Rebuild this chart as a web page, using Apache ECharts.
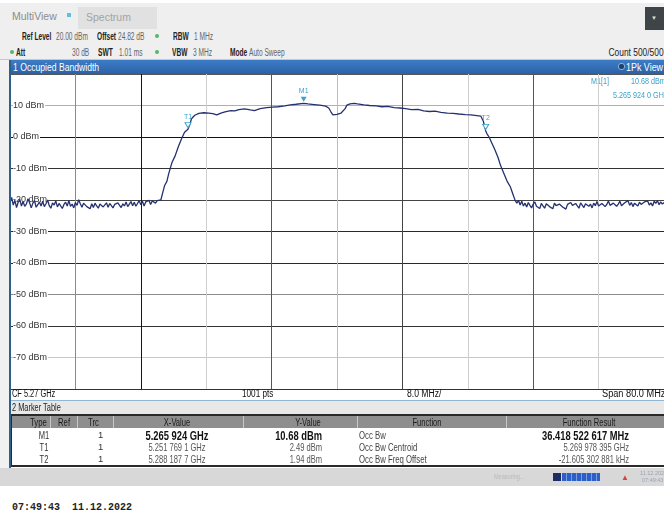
<!DOCTYPE html>
<html><head><meta charset="utf-8">
<script src="https://cdn.jsdelivr.net/npm/echarts/dist/echarts.min.js"></script>
<style>
html,body{margin:0;padding:0;}
body{width:664px;height:519px;overflow:hidden;background:#fff;position:relative;font-family:'Liberation Sans',Arial,sans-serif;color:#333;}
.a{position:absolute;white-space:nowrap;line-height:1;}
.b{font-weight:bold;}
.r{text-align:right;}
.c{text-align:center;}
.sl{transform:scaleX(.66);transform-origin:left top;}
.sr{transform:scaleX(.72);transform-origin:right top;}
.sc{transform:scaleX(.72);transform-origin:center top;}
.tl{transform:scaleX(.74);transform-origin:left top;}
</style>
</head><body>
<!-- top bar -->
<div class="a" style="left:0;top:3px;width:664px;height:56px;background:#efefef;"></div>
<div class="a" style="left:12px;top:11px;font-size:10.5px;color:#8c8c8c;">MultiView</div>
<div class="a" style="left:67px;top:13px;width:4px;height:4px;background:#5cc2dc;"></div>
<div class="a" style="left:78px;top:7px;width:79px;height:22px;background:#e1e1e1;"></div>
<div class="a" style="left:86px;top:12px;font-size:10.5px;color:#a3a3a3;">Spectrum</div>
<div class="a" style="left:645px;top:7px;width:19px;height:23px;background:#3e4447;"></div>
<div class="a" style="left:651px;top:15px;font-size:6px;color:#ddd;">▼</div>

<div class="a b sl" style="left:22px;top:32px;font-size:10px;color:#222;">Ref Level</div>
<div class="a sl" style="left:56px;top:32px;font-size:10px;color:#666;">20.00 dBm</div>
<div class="a b sl" style="left:97px;top:32px;font-size:10px;color:#222;">Offset</div>
<div class="a sl" style="left:118px;top:32px;font-size:10px;color:#666;">24.82 dB</div>
<div class="a" style="left:155px;top:34px;width:4px;height:4px;border-radius:2px;background:#55b56a;"></div>
<div class="a b sl" style="left:173px;top:32px;font-size:10px;color:#222;">RBW</div>
<div class="a sl" style="left:194px;top:32px;font-size:10px;color:#666;">1 MHz</div>

<div class="a" style="left:10px;top:50px;width:4px;height:4px;border-radius:2px;background:#55b56a;"></div>
<div class="a b sl" style="left:16px;top:48px;font-size:10px;color:#222;">Att</div>
<div class="a sl" style="left:72px;top:48px;font-size:10px;color:#666;">30 dB</div>
<div class="a b sl" style="left:98px;top:48px;font-size:10px;color:#222;">SWT</div>
<div class="a sl" style="left:119px;top:48px;font-size:10px;color:#666;">1.01 ms</div>
<div class="a" style="left:155px;top:50px;width:4px;height:4px;border-radius:2px;background:#55b56a;"></div>
<div class="a b sl" style="left:172px;top:48px;font-size:10px;color:#222;">VBW</div>
<div class="a sl" style="left:193px;top:48px;font-size:10px;color:#666;">3 MHz</div>
<div class="a b sl" style="left:230px;top:48px;font-size:10px;color:#222;">Mode</div>
<div class="a sl" style="left:249px;top:48px;font-size:10px;color:#666;">Auto Sweep</div>
<div class="a sr" style="right:0;top:48px;font-size:10px;color:#222;transform:scaleX(.84);">Count 500/500</div>
<div class="a" style="left:0;top:59px;width:664px;height:1px;background:#a9d0e6;"></div>

<!-- left strip and window border -->
<div class="a" style="left:0;top:60px;width:9px;height:410px;background:#f1f1f1;"></div>
<div class="a" style="left:9px;top:60px;width:2px;height:408px;background:#2f5f8c;z-index:5;"></div>

<!-- header bar -->
<div class="a" style="left:9px;top:60px;width:655px;height:14px;background:linear-gradient(#3d7cc6,#2a62a8);"></div>
<div class="a tl" style="left:13px;top:62px;font-size:10.5px;color:#fff;transform:scaleX(.82);">1 Occupied Bandwidth</div>
<div class="a" style="left:618px;top:63px;width:5px;height:5px;border-radius:3px;background:#1d3f6e;border:1px solid #8fb2dc;"></div>
<div class="a tl" style="left:626px;top:62px;font-size:10.5px;color:#fff;transform:scaleX(.85);">1Pk View</div>

<!-- plot -->
<div id="plot" class="a" style="left:0;top:74px;width:664px;height:316px;"></div>

<!-- CF row -->
<div class="a" style="left:11px;top:390px;width:653px;height:10px;background:#fff;"></div>
<div class="a tl" style="left:12px;top:389px;font-size:10px;color:#111;">CF 5.27 GHz</div>
<div class="a tl" style="left:242px;top:389px;font-size:10px;color:#111;transform:scaleX(.82);">1001 pts</div>
<div class="a tl" style="left:407px;top:389px;font-size:10px;color:#111;transform:scaleX(.86);">8.0 MHz/</div>
<div class="a tl" style="left:602px;top:389px;font-size:10px;color:#111;transform:scaleX(.92);">Span 80.0 MHz</div>
<div class="a" style="left:11px;top:400px;width:653px;height:1px;background:#8fb6d4;"></div>
<div class="a" style="left:11px;top:401px;width:653px;height:13px;background:#e8e8e8;"></div>
<div class="a tl" style="left:12px;top:403px;font-size:10px;color:#222;">2 Marker Table</div>

<!-- table -->
<div class="a" style="left:11px;top:414px;width:655px;height:53px;background:#fff;border-top:2px solid #2a2a2a;border-bottom:2px solid #2a2a2a;border-left:1px solid #2a2a2a;box-sizing:border-box;"></div>
<div class="a" style="left:12px;top:416px;width:652px;height:12px;background:#8e8e8e;"></div>
<div class="a" style="left:50px;top:416px;width:1px;height:12px;background:#c8c8c8;"></div>
<div class="a" style="left:77px;top:416px;width:1px;height:12px;background:#c8c8c8;"></div>
<div class="a" style="left:113px;top:416px;width:1px;height:12px;background:#c8c8c8;"></div>
<div class="a" style="left:243px;top:416px;width:1px;height:12px;background:#c8c8c8;"></div>
<div class="a" style="left:357px;top:416px;width:1px;height:12px;background:#c8c8c8;"></div>
<div class="a" style="left:506px;top:416px;width:1px;height:12px;background:#c8c8c8;"></div>
<div class="a tl" style="left:30px;top:417px;font-size:10.5px;color:#1a1a1a;">Type</div>
<div class="a tl" style="left:58px;top:417px;font-size:10.5px;color:#1a1a1a;">Ref</div>
<div class="a tl" style="left:88px;top:417px;font-size:10.5px;color:#1a1a1a;">Trc</div>
<div class="a c sc" style="left:137px;width:80px;top:417px;font-size:10.5px;color:#1a1a1a;">X-Value</div>
<div class="a c sc" style="left:268px;width:80px;top:417px;font-size:10.5px;color:#1a1a1a;">Y-Value</div>
<div class="a c sc" style="left:387px;width:80px;top:417px;font-size:10.5px;color:#1a1a1a;">Function</div>
<div class="a c sc" style="left:549px;width:80px;top:417px;font-size:10.5px;color:#1a1a1a;">Function Result</div>

<div id="rows"></div>

<!-- status bar -->
<div class="a" style="left:0;top:468px;width:664px;height:18px;background:#d8d8d8;"></div>
<div class="a tl" style="left:494px;top:473px;font-size:7.5px;color:#b9b9b9;">Measuring...</div>
<div class="a" style="left:553px;top:473px;width:8px;height:8px;background:#1f2c63;"></div>
<div class="a" style="left:562px;top:473px;width:38px;height:8px;background:repeating-linear-gradient(90deg,#2d5fc9 0 4px,#7c9ce0 4px 5px);"></div>
<div class="a" style="left:621px;top:474px;font-size:8px;color:#d5433b;">▲</div>
<div class="a" style="left:640px;top:471px;font-size:5.5px;color:#9aa2b8;">11.12.2022</div>
<div class="a" style="left:642px;top:478px;font-size:5.5px;color:#9aa2b8;">07:49:43</div>

<div class="a b" style="left:12px;top:503px;font-family:'Liberation Mono','DejaVu Sans Mono',monospace;font-size:10px;color:#222;">07:49:43&nbsp;&nbsp;11.12.2022</div>

<script>
// ---------- data ----------
const centerFreqMHz = 5270;
const spanMHz = 80;
const divMHz = 8;
const refLevel = 20;
const bottomLevel = -80;
const levelDiv = 10;

// trace: [frequency MHz, level dBm]
const noiseLeft = [
  [5230.0,-20.4],[5230.2,-19.2],[5230.4,-21.6],[5230.6,-20.1],[5230.8,-22.4],[5231.0,-20.7],[5231.2,-19.8],[5231.4,-21.9],[5231.6,-20.5],[5231.8,-22.0],
  [5232.0,-21.3],[5232.2,-19.6],[5232.4,-20.9],[5232.6,-22.5],[5232.8,-21.0],[5233.0,-20.2],[5233.2,-22.3],[5233.4,-21.5],[5233.6,-20.6],[5233.8,-21.9],
  [5234.0,-20.4],[5234.2,-22.1],[5234.4,-21.2],[5234.6,-20.0],[5234.8,-21.8],[5235.0,-22.6],[5235.2,-20.9],[5235.4,-21.6],[5235.6,-20.3],[5235.8,-22.2],
  [5236.0,-21.1],[5236.2,-20.5],[5236.4,-22.7],[5236.6,-21.4],[5236.8,-20.7],[5237.0,-21.9],[5237.2,-20.2],[5237.4,-22.0],[5237.6,-21.3],[5237.8,-22.5],
  [5238.0,-20.8],[5238.2,-21.7],[5238.4,-19.9],[5238.6,-21.2],[5238.8,-22.3],[5239.0,-21.0],[5239.2,-20.4],[5239.4,-22.1],[5239.6,-21.5],[5239.8,-22.8],
  [5240.0,-21.2],[5240.2,-22.4],[5240.4,-21.0],[5240.6,-21.9],[5240.8,-22.6],[5241.0,-21.3],[5241.2,-20.8],[5241.4,-22.2],[5241.6,-21.6],[5241.8,-20.9],
  [5242.0,-22.3],[5242.2,-21.1],[5242.4,-21.8],[5242.6,-22.5],[5242.8,-21.4],[5243.0,-22.0],[5243.2,-20.9],[5243.4,-21.7],[5243.6,-22.4],[5243.8,-21.2],
  [5244.0,-21.9],[5244.2,-20.6],[5244.4,-22.1],[5244.6,-21.3],[5244.8,-20.5],[5245.0,-21.8],[5245.2,-20.7],[5245.4,-22.0],[5245.6,-21.1],[5245.8,-20.2],
  [5246.0,-21.5],[5246.2,-20.4],[5246.4,-21.9],[5246.6,-20.6],[5246.8,-21.2],[5247.0,-20.1],[5247.2,-21.4],[5247.4,-20.3],[5247.6,-19.8],[5247.8,-21.0],
  [5248.0,-20.2],[5248.2,-20.6]
];
const edgeLeft = [
  [5248.45,-20.0],[5248.7,-17.5],[5248.9,-15.5],[5249.2,-14.0],[5249.4,-11.8],[5249.8,-8.2],
  [5250.2,-6.0],[5250.6,-3.0],[5251.0,-0.5],[5251.35,1.5],[5251.77,2.49],[5252.0,4.0],
  [5252.2,5.8],[5252.6,6.9]
];
const plateau = [
  [5253.1,7.5],[5253.7,7.7],[5254.3,7.6],[5254.8,7.4],[5255.3,7.0],[5255.8,7.6],[5256.3,8.0],
  [5257.0,8.4],[5257.5,8.3],[5258.0,8.7],[5258.7,8.9],[5259.4,8.6],[5259.9,8.4],[5260.6,9.0],
  [5261.4,9.3],[5262.1,9.5],[5262.8,9.6],[5263.6,9.9],[5264.3,10.2],[5265.0,10.4],
  [5265.924,10.68],[5266.45,10.5],[5267.2,10.3],[5267.9,10.1],[5268.6,9.8],[5268.99,9.2],
  [5269.25,8.0],[5269.5,7.0],[5269.7,6.4],[5270.0,7.2],[5270.2,6.8],[5270.5,7.6],[5270.7,7.9],
  [5271.0,9.0],[5271.2,10.1],[5271.6,10.5],[5272.1,10.7],[5272.5,10.5],[5273.3,10.2],
  [5274.0,10.0],[5274.8,9.9],[5275.5,9.6],[5276.2,9.7],[5277.0,9.3],[5277.7,9.2],[5278.4,9.0],
  [5279.1,8.7],[5279.9,8.8],[5280.6,8.3],[5281.3,8.1],[5282.0,8.2],[5282.7,7.8],[5283.5,7.6],
  [5284.2,7.5],[5284.9,7.3],[5285.7,7.1],[5286.4,7.0],[5287.1,6.8],[5287.6,6.6]
];
const edgeRight = [
  [5287.9,5.0],[5288.19,1.94],[5288.35,1.0],[5288.6,0.0],[5288.95,-2.0],[5289.3,-4.0],
  [5289.7,-6.5],[5290.0,-9.0],[5290.4,-11.5],[5290.8,-14.0],[5291.2,-15.8],[5291.5,-18.0],
  [5291.8,-20.2],[5292.0,-21.0]
];
const noiseRight = [
  [5292.2,-20.1],[5292.4,-21.6],[5292.6,-20.4],[5292.8,-21.9],[5293.0,-21.0],[5293.2,-22.2],[5293.4,-20.8],[5293.6,-21.7],[5293.8,-22.5],[5294.0,-21.3],
  [5294.2,-20.6],[5294.4,-22.0],[5294.6,-21.4],[5294.8,-22.7],[5295.0,-21.1],[5295.2,-21.9],[5295.4,-22.6],[5295.6,-21.2],[5295.8,-20.7],[5296.0,-22.1],
  [5296.2,-21.5],[5296.4,-22.8],[5296.6,-21.0],[5296.8,-21.8],[5297.0,-22.4],[5297.2,-21.3],[5297.4,-20.9],[5297.6,-22.2],[5297.8,-21.6],[5298.0,-22.9],
  [5298.2,-21.4],[5298.4,-22.0],[5298.6,-20.8],[5298.8,-21.7],[5299.0,-22.3],[5299.2,-21.1],[5299.4,-21.9],[5299.6,-22.6],[5299.8,-20.9],[5300.0,-21.5],
  [5300.2,-22.4],[5300.4,-21.2],[5300.6,-20.6],[5300.8,-22.0],[5301.0,-21.3],[5301.2,-22.5],[5301.4,-21.0],[5301.6,-21.8],[5301.8,-20.5],[5302.0,-21.9],
  [5302.2,-22.3],[5302.4,-21.1],[5302.6,-20.7],[5302.8,-22.1],[5303.0,-21.4],[5303.2,-20.3],[5303.4,-21.7],[5303.6,-22.2],[5303.8,-21.0],[5304.0,-20.6],
  [5304.2,-22.0],[5304.4,-21.3],[5304.6,-20.4],[5304.8,-21.8],[5305.0,-22.4],[5305.2,-20.9],[5305.4,-21.5],[5305.6,-20.2],[5305.8,-21.7],[5306.0,-20.8],
  [5306.2,-22.1],[5306.4,-21.0],[5306.6,-20.5],[5306.8,-21.9],[5307.0,-20.7],[5307.2,-21.4],[5307.4,-22.0],[5307.6,-20.6],[5307.8,-21.2],[5308.0,-20.3],
  [5308.2,-21.6],[5308.4,-20.9],[5308.6,-21.9],[5308.8,-20.4],[5309.0,-21.1],[5309.2,-20.2],[5309.4,-21.5],[5309.6,-20.6],[5309.8,-21.3],[5310.0,-20.8]
];

// markers
const markerNames = ['M1','T1','T2'];
const markerFreqsMHz = [5265.924, 5251.7691, 5288.1877];
const markerLevels = [10.68, 2.49, 1.94];
const markerXText = ['5.265 924 GHz','5.251 769 1 GHz','5.288 187 7 GHz'];
const markerYText = ['10.68 dBm','2.49 dBm','1.94 dBm'];
const functionNames = ['Occ Bw','Occ Bw Centroid','Occ Bw Freq Offset'];
const functionResults = ['36.418 522 617 MHz','5.269 978 395 GHz','-21.605 302 881 kHz'];

// ---------- table rows ----------
(function(){
  const rowsEl = document.getElementById('rows');
  const tops = [430, 442, 454];
  let html = '';
  for (let i = 0; i < markerNames.length; i++) {
    const big = i === 0;
    const fs = big ? 13 : 10.5;
    const fw = big ? 'bold' : 'normal';
    const col = big ? '#111' : '#555';
    const dt = big ? -1 : 0;
    html += `<div class="a c sc" style="left:30px;width:28px;top:${tops[i]}px;font-size:10.5px;color:#333;">${markerNames[i]}</div>`;
    html += `<div class="a" style="left:98px;top:${tops[i]}px;font-size:9.5px;color:#333;">1</div>`;
    html += `<div class="a c sc" style="left:117px;width:120px;top:${tops[i]+dt}px;font-size:${fs}px;font-weight:${fw};color:${col};">${markerXText[i]}</div>`;
    html += `<div class="a r sr" style="left:202px;width:120px;top:${tops[i]+dt}px;font-size:${fs}px;font-weight:${fw};color:${col};">${markerYText[i]}</div>`;
    html += `<div class="a tl" style="left:359px;top:${tops[i]}px;font-size:10.5px;color:#444;">${functionNames[i]}</div>`;
    html += `<div class="a r sr" style="left:430px;width:199px;top:${tops[i]+dt}px;font-size:${fs}px;font-weight:${fw};color:${col};">${functionResults[i]}</div>`;
  }
  rowsEl.innerHTML = html;
})();

// ---------- chart ----------
const trace = [].concat(noiseLeft, edgeLeft, plateau, edgeRight, noiseRight)
  .map(p => [p[0] - centerFreqMHz, p[1]]);

const teal = '#3aa2cb';
const fontFam = "'Liberation Sans',Arial,sans-serif";
const markerData = markerNames.map((n, i) => ({
  name: n,
  coord: [markerFreqsMHz[i] - centerFreqMHz, markerLevels[i]],
  itemStyle: i === 0 ? {color: teal} : {color: '#fff', borderColor: teal, borderWidth: 1},
}));

const chart = echarts.init(document.getElementById('plot'), null, {renderer: 'canvas'});
chart.setOption({
  animation: false,
  grid: {left: 10, top: 0, width: 658, height: 315},
  xAxis: {
    type: 'value', min: -spanMHz / 2, max: spanMHz / 2, interval: divMHz,
    axisLine: {show: false}, axisTick: {show: false}, axisLabel: {show: false},
    splitLine: {show: true, lineStyle: {width: 1, color: ['#2f5f8c','#8a8a8a','#151515','#cfcfcf','#555','#bdbdbd','#444','#cfcfcf','#555','#cfcfcf','#555']}}
  },
  yAxis: {
    type: 'value', min: bottomLevel, max: refLevel, interval: levelDiv,
    axisLine: {show: false}, axisTick: {show: false},
    axisLabel: {
      inside: true, margin: 3, color: '#333', fontSize: 9, fontFamily: fontFam,
      backgroundColor: '#fff', padding: [0, 1, 0, 0],
      formatter: v => (v === refLevel || v === bottomLevel) ? '' : v + ' dBm'
    },
    splitLine: {show: true, lineStyle: {width: 1, color: ['#333','#c8c8c8','#333','#8a8a8a','#2a2a2a','#2a2a2a','#444','#333','#111','#b0b0b0','#555']}}
  },
  graphic: [
    {type: 'text', left: 591, top: 3, scaleX: 0.8, style: {text: 'M1[1]', fill: teal, font: '9px ' + fontFam}},
    {type: 'text', left: 631, top: 3, scaleX: 0.8, style: {text: markerYText[0], fill: teal, font: '9px ' + fontFam}},
    {type: 'text', left: 613, top: 17, scaleX: 0.8, style: {text: '5.265 924 0 GHz', fill: teal, font: '9px ' + fontFam}}
  ],
  series: [{
    type: 'line', data: trace, showSymbol: false, silent: true,
    lineStyle: {color: '#25316f', width: 1.3},
    markPoint: {
      symbol: 'triangle', symbolRotate: 180, symbolSize: [6, 5], symbolOffset: [0, -4],
      label: {show: true, position: 'top', distance: 2, formatter: '{b}', color: teal, fontSize: 7, fontFamily: fontFam},
      data: markerData
    }
  }]
});
</script>
</body></html>
